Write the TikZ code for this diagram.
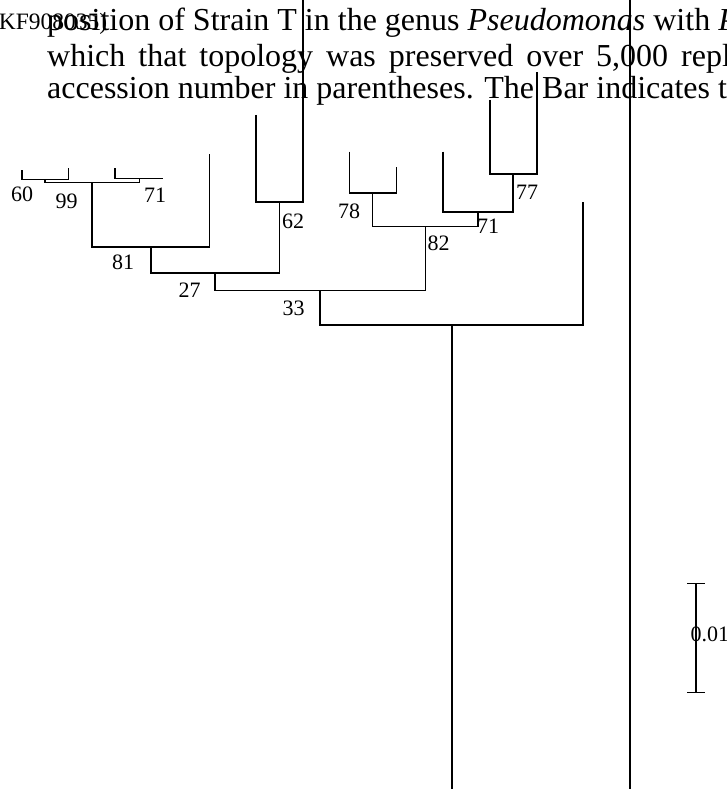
\documentclass[tikz,border=0pt]{standalone}
\usepackage{fontspec}
\setmainfont{Liberation Serif}
\usetikzlibrary{arrows.meta}
\tikzset{
  capline/.style={anchor=base west, inner sep=0pt, font=\fontsize{32}{38}\selectfont},
  lab/.style={inner sep=0pt, font=\fontsize{22}{26}\selectfont},
  branch/.style={line width=1.6pt},
  scalebar/.style={line width=1.6pt, {Bar[width=17.4pt]}-{Bar[width=17.4pt]}}
}
\begin{document}
\begin{tikzpicture}[x=1pt,y=-1pt]
\useasboundingbox (0,0) rectangle (726,789);
\clip (0,0) rectangle (726,789);
% caption text
\node[capline] (t1) at (47,30.5) {position of Strain T in the genus \textit{Pseudomonas} with \textit{P}};
\node[capline] (t2) at (47,67) {\spaceskip=13pt which that topology was preserved over 5,000 repl};
\node[capline] (t3) at (47,99) {accession number in parentheses. The Bar indicates th};
\node[lab, anchor=base east, font=\fontsize{23.5}{28}\selectfont] (kf) at (107.5,30) {KF908035)};
% tips
\coordinate (L1) at (21.7,170);
\coordinate (L2) at (68.3,168.3);
\coordinate (L3) at (115,168.3);
\coordinate (L4) at (162.7,178.3);
\coordinate (L5) at (209.3,154);
\coordinate (L6) at (256,115);
\coordinate (L7) at (302.7,0);
\coordinate (L8) at (349.3,151.7);
\coordinate (L9) at (396.3,167.3);
\coordinate (L10) at (443,151.7);
\coordinate (L11) at (489.7,100);
\coordinate (L12) at (536.7,72);
\coordinate (L13) at (583,201.7);
\coordinate (Rb) at (451.7,789);
\coordinate (Vt) at (629.7,0);
\coordinate (Vb) at (629.7,789);
% junctions
\coordinate (J60) at (45,179.3);
\coordinate (J71b) at (139.3,178.3);
\coordinate (J99) at (92,182.3);
\coordinate (J81) at (150.7,246.7);
\coordinate (J62) at (279.3,202);
\coordinate (J27) at (215,272.7);
\coordinate (J33) at (320,290.3);
\coordinate (J78) at (372.3,192.7);
\coordinate (J77) at (513,174);
\coordinate (J71) at (478,211.7);
\coordinate (J82) at (425.3,226.3);
\coordinate (R) at (451.7,325);
% branches
\draw[branch] (L1) |- (J60) -| (L2);
\draw[branch] (L3) |- (J71b) -| (L4);
\draw[branch] (J60) |- (J99) -| (J71b);
\draw[branch] (J99) |- (J81) -| (L5);
\draw[branch] (L6) |- (J62) -| (L7);
\draw[branch] (J81) |- (J27) -| (J62);
\draw[branch] (L8) |- (J78) -| (L9);
\draw[branch] (L11) |- (J77) -| (L12);
\draw[branch] (L10) |- (J71) -| (J77);
\draw[branch] (J78) |- (J82) -| (J71);
\draw[branch] (J27) |- (J33) -| (J82);
\draw[branch] (J33) |- (R) -| (L13);
\draw[branch] (R) -- (Rb);
\draw[branch] (Vt) -- (Vb);
% bootstrap labels
\node[lab] (b60) at (22,194) {60};
\node[lab] (b99) at (66.5,201.5) {99};
\node[lab] (b71a) at (155,195.5) {71};
\node[lab] (b81) at (123,262.5) {81};
\node[lab] (b62) at (293,221) {62};
\node[lab] (b27) at (189.5,290) {27};
\node[lab] (b33) at (293.5,308) {33};
\node[lab] (b78) at (349,211) {78};
\node[lab] (b77) at (527,192.5) {77};
\node[lab] (b71b) at (488,226.5) {71};
\node[lab] (b82) at (438.5,243.5) {82};
% scale bar
\coordinate (SBt) at (696,582.7);
\coordinate (SBb) at (696,693.3);
\draw[scalebar] (SBt) -- (SBb);
\node[lab, anchor=base west] (sbl) at (690.5,641.5) {0.01};
\end{tikzpicture}
\end{document}
